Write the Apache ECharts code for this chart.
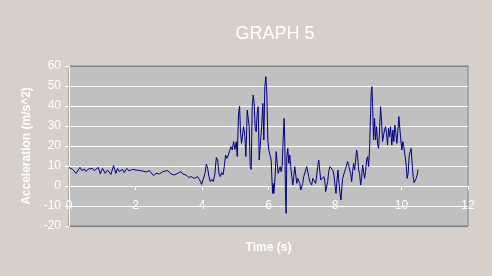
<!DOCTYPE html>
<html>
<head>
<meta charset="utf-8">
<script src="https://cdn.jsdelivr.net/npm/echarts@6/dist/echarts.min.js"></script>
<style>
html,body{margin:0;padding:0;background:#d7cfc9;}
#chart{width:492px;height:276px;}
</style>
</head>
<body>
<div id="chart"></div>
<script>
var timeS = [
0.00,0.03,0.11,0.21,0.33,0.39,0.46,0.51,0.58,0.63,0.71,0.76,0.88,0.94,1.01,1.09,1.16,1.21,1.26,1.34,
1.41,1.46,1.51,1.61,1.66,1.74,1.81,1.91,2.02,2.12,2.22,2.32,2.42,2.47,2.54,2.62,2.72,2.82,2.87,2.97,
3.07,3.17,3.27,3.37,3.42,3.52,3.60,3.67,3.77,3.87,3.92,
3.99,4.04,4.09,4.13,4.17,4.21,4.25,4.29,4.34,4.39,4.43,4.47,4.51,4.55,4.59,4.63,4.67,4.71,4.75,4.79,
4.83,4.87,4.91,4.95,4.99,5.03,5.06,5.10,5.13,5.16,5.19,5.22,5.25,5.29,5.32,5.36,5.39,5.42,5.45,5.48,
5.51,5.54,5.57,5.60,5.63,5.66,5.69,5.72,
5.77,5.80,5.83,5.86,5.89,5.92,5.95,5.98,6.01,6.04,6.08,6.11,6.13,6.14,6.16,6.20,6.23,6.26,6.29,6.32,
6.35,6.38,6.41,6.44,6.47,6.49,6.51,6.53,6.55,6.58,6.61,6.64,6.67,6.70,6.73,6.76,6.79,6.82,6.85,6.88,
6.91,6.94,6.97,7.00,7.03,7.06,7.09,7.12,7.15,7.18,7.21,7.24,7.27,7.30,7.33,7.36,7.39,7.42,7.45,7.48,
7.51,7.54,7.57,7.60,7.63,7.66,7.69,7.72,7.75,7.78,7.81,
7.85,7.89,7.93,7.97,8.00,8.03,8.06,8.09,8.12,8.15,8.18,8.20,8.23,8.26,8.29,8.32,8.35,8.38,8.41,8.44,
8.47,8.50,8.53,8.56,8.59,8.62,8.65,8.68,8.71,8.74,8.77,8.80,8.83,8.86,8.89,8.92,8.95,8.98,9.01,9.04,
9.07,9.09,9.11,9.13,9.16,9.19,9.22,9.25,9.28,9.31,9.34,9.37,9.40,9.43,9.46,9.49,9.52,9.55,9.58,9.61,
9.64,9.67,9.71,9.74,9.77,
9.80,9.83,9.86,9.89,9.92,9.95,9.98,10.01,10.04,10.07,10.11,10.14,10.17,10.20,10.23,10.26,10.29,10.32,10.35,10.38,
10.41,10.44,10.47,10.50
];
var accel = [
9.2,8.8,8.3,6.3,9.3,7.7,8.5,7.2,8.5,7.5,8.8,7.7,9.3,6.0,8.8,6.3,8.0,8.5,5.8,10.2,
6.3,8.8,7.2,8.3,6.7,8.8,7.5,8.3,8.0,7.7,7.5,7.0,7.7,7.2,5.2,6.3,6.0,7.2,6.7,7.7,
6.0,5.5,6.3,7.2,6.0,5.5,4.3,4.7,3.8,4.7,3.3,
0.8,1.0,6.3,11.0,8.8,4.7,2.2,3.3,2.2,6.3,14.3,13.0,6.3,4.7,6.7,5.5,9.7,15.5,13.8,15.5,
16.3,19.7,18.0,22.2,18.3,22.2,14.7,36.3,40.0,26.3,21.3,25.5,29.7,24.7,14.7,38.0,38.3,29.7,9.7,8.3,
39.7,45.5,41.3,28.8,27.2,36.3,39.7,13.0,
12.2,31.3,41.3,23.0,49.7,54.7,46.3,23.0,18.0,18.8,13.0,0.5,-3.7,1.3,-3.7,4.7,17.2,16.3,6.3,8.0,
9.7,7.2,9.7,23.2,33.8,21.3,-3.7,-13.7,14.7,18.8,11.3,15.5,9.7,4.7,0.5,4.7,9.7,8.8,1.3,3.8,
4.3,1.3,-2.0,-1.2,1.3,4.7,3.8,5.5,9.7,10.5,4.7,2.2,3.0,0.5,3.8,3.3,3.8,1.3,5.5,9.7,
13.0,8.0,3.0,3.8,2.2,4.7,3.0,-2.8,-3.7,2.2,7.2,
9.7,8.8,8.0,5.5,0.5,-3.7,3.0,8.0,1.3,-3.7,-7.0,-2.0,3.8,5.5,7.2,8.8,9.7,12.2,10.5,8.0,
6.3,2.2,7.2,11.3,8.0,13.0,18.0,14.7,8.0,6.3,0.5,3.8,10.5,9.7,3.8,7.2,13.0,14.7,9.7,18.8,
36.3,47.2,49.7,41.3,23.0,33.8,23.0,29.7,21.3,18.8,28.0,39.7,33.0,22.2,21.3,28.0,29.7,26.3,20.5,28.8,
24.7,29.7,20.5,28.0,22.2,
30.5,26.3,21.3,27.2,34.7,28.8,23.0,18.0,22.2,19.7,14.7,10.5,3.8,6.3,14.8,17.2,18.8,11.3,4.7,1.7,
1.3,3.8,5.5,8.3
];
var xTicks = [0,2,4,6,8,10,12];
var yTicks = [-20,-10,0,10,20,30,40,50,60];

var pts = timeS.map(function(t,i){return [t, accel[i]];});
var chart = echarts.init(document.getElementById('chart'), null, {renderer:'canvas'});
var font = 'Liberation Sans, Arial, sans-serif';
chart.setOption({
  backgroundColor:'#d7cfc9',
  animation:false,
  title:{text:'GRAPH 5', left:270, top:20, textAlign:'center',
    textStyle:{color:'#ffffff', fontFamily:font, fontSize:18, fontWeight:'normal'}},
  grid:{left:69, top:66, width:399, height:160, show:true, backgroundColor:'#c0c0c0',
    borderColor:'#808080', borderWidth:1, containLabel:false, outerBoundsMode:'none'},
  xAxis:{type:'value', min:xTicks[0], max:xTicks[xTicks.length-1], interval:2,
    name:'Time (s)', nameLocation:'middle', nameGap:16,
    nameTextStyle:{color:'#ffffff', fontFamily:font, fontSize:12, fontWeight:'bold'},
    axisLine:{onZero:true, lineStyle:{color:'#ffffff', width:1}},
    axisTick:{show:true, length:4, lineStyle:{color:'#ffffff'}},
    axisLabel:{color:'#ffffff', fontFamily:font, fontSize:12, margin:-26},
    splitLine:{show:false}},
  yAxis:{type:'value', min:yTicks[0], max:yTicks[yTicks.length-1], interval:10,
    name:'Acceleration (m/s^2)', nameLocation:'middle', nameGap:36, nameRotate:90,
    nameTextStyle:{color:'#ffffff', fontFamily:font, fontSize:12, fontWeight:'bold'},
    axisLine:{show:true, lineStyle:{color:'#ffffff', width:1}},
    axisTick:{show:true, length:4, lineStyle:{color:'#ffffff'}},
    axisLabel:{color:'#ffffff', fontFamily:font, fontSize:12, margin:8},
    splitLine:{show:true, lineStyle:{color:['#808080','#ffffff','#ffffff','#ffffff','#ffffff','#ffffff','#ffffff','#ffffff','#808080'], width:1}}},
  series:[{type:'line', data:pts, showSymbol:false, symbol:'none',
    lineStyle:{color:'#000080', width:1}, itemStyle:{color:'#000080'}}]
});
</script>
</body>
</html>
